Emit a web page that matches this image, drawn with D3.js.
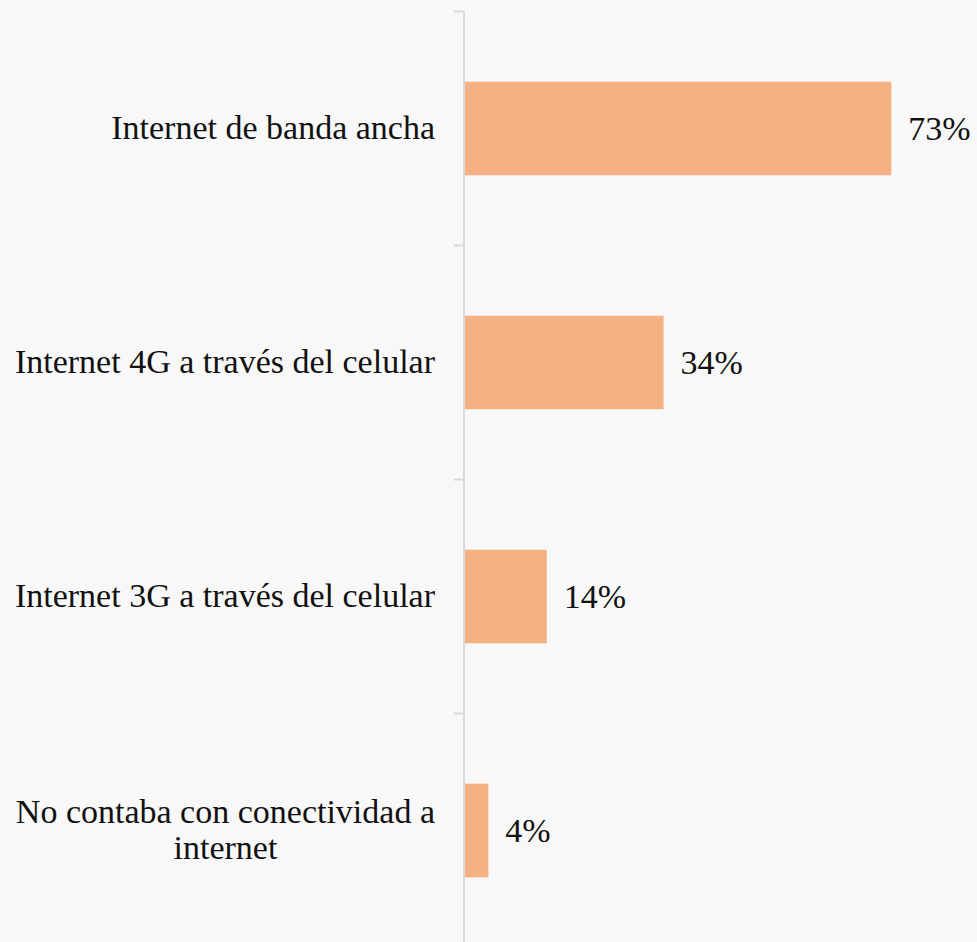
<!DOCTYPE html>
<html>
<head>
<meta charset="utf-8">
<script src="https://cdn.jsdelivr.net/npm/d3@7"></script>
<style>
  html, body { margin: 0; padding: 0; background: #f7f8f7; }
  svg { display: block; }
</style>
</head>
<body>
<svg id="chart" width="977" height="942"></svg>
<script>
const categories = [
  ["Internet de banda ancha"],
  ["Internet 4G a través del celular"],
  ["Internet 3G a través del celular"],
  ["No contaba con conectividad a", "internet"]
];
const values = [73, 34, 14, 4];
const valueLabels = ["73%", "34%", "14%", "4%"];

const W = 977, H = 942;
const FONT = "'Liberation Serif', 'Times New Roman', serif";
const FS = 34;
const svg = d3.select("#chart");
svg.append("rect").attr("width", W).attr("height", H).attr("fill", "#f7f8f7");

const keys = categories.map(c => c.join(" "));
const y = d3.scaleBand().domain(keys).range([11.5, 947.5]).paddingInner(0.6).paddingOuter(0.3);
const x = d3.scaleLinear().domain([0, 80]).range([465, 465 + 80 * 5.84]);

// axis line and ticks
const axisX = 464;
svg.append("line").attr("x1", axisX).attr("x2", axisX).attr("y1", 11.5).attr("y2", H)
  .attr("stroke", "#d9d9d9").attr("stroke-width", 2);
d3.range(keys.length + 1).forEach(i => {
  const ty = 11.5 + i * y.step();
  svg.append("line").attr("x1", axisX - 10).attr("x2", axisX).attr("y1", ty).attr("y2", ty)
    .attr("stroke", "#d9d9d9").attr("stroke-width", 2);
});

// bars
svg.selectAll("rect.bar").data(values).enter().append("rect")
  .attr("class", "bar")
  .attr("x", x(0))
  .attr("y", (d, i) => y(keys[i]))
  .attr("width", d => x(d) - x(0))
  .attr("height", y.bandwidth())
  .attr("fill", "#f4b183");

// value labels
svg.selectAll("text.val").data(values).enter().append("text")
  .attr("class", "val")
  .attr("x", d => x(d) + 17)
  .attr("y", (d, i) => y(keys[i]) + y.bandwidth() / 2)
  .attr("dy", "0.33em")
  .attr("font-family", FONT).attr("font-size", FS).attr("fill", "#111")
  .text((d, i) => valueLabels[i]);

// category labels (multi-line centred block, right-aligned to axis)
const lineH = 36;
categories.forEach((lines, i) => {
  const cy = y(keys[i]) + y.bandwidth() / 2;
  const g = svg.append("g");
  const texts = lines.map((ln, j) => g.append("text")
    .attr("font-family", FONT).attr("font-size", FS).attr("fill", "#111")
    .attr("dy", "0.31em")
    .attr("y", cy + (j - (lines.length - 1) / 2) * lineH)
    .text(ln));
  const widths = texts.map(t => t.node().getComputedTextLength());
  const maxW = d3.max(widths);
  const right = 435;
  const center = right - maxW / 2;
  texts.forEach(t => t.attr("x", center).attr("text-anchor", "middle"));
});
</script>
</body>
</html>
